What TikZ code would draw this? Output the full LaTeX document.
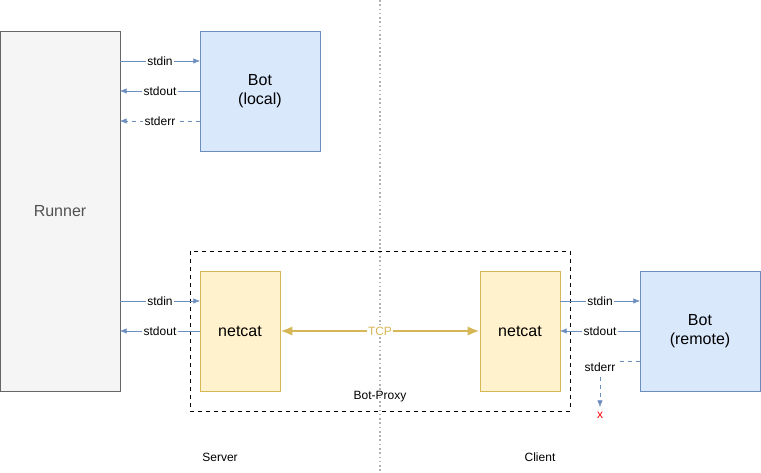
\documentclass[tikz,border=0pt]{standalone}
\usepackage{fontspec}
\setmainfont{Liberation Sans}
\usetikzlibrary{arrows.meta}
\definecolor{runfill}{HTML}{F5F5F5}
\definecolor{runline}{HTML}{666666}
\definecolor{botfill}{HTML}{DAE8FC}
\definecolor{botline}{HTML}{6C8EBF}
\definecolor{ncfill}{HTML}{FFF2CC}
\definecolor{ncline}{HTML}{D6B656}
\tikzset{
  box/.style={draw, minimum width=#1*0.75pt, inner sep=0pt, align=center, font=\large},
  pipe/.style={draw=botline, -{Latex[length=5pt,width=4pt]}},
  lbl/.style={fill=white, inner sep=1pt, font=\small}
}
\begin{document}
\begin{tikzpicture}[x=0.75pt, y=-0.75pt]
  \useasboundingbox (0,0) rectangle (761,473);
  \draw[gray!60, dotted, line width=1.2pt] (380,0) -- (380,473);
  \draw[dashed] (190,251) rectangle (570,411);

  \node[box=120, fill=runfill, draw=runline, text=runline!80!black, minimum height=270pt] at (60,211) (runner) {Runner};
  \node[box=120, fill=botfill, draw=botline, minimum height=90pt] at (260,91) (botl) {Bot\\(local)};
  \node[box=80, fill=ncfill, draw=ncline, minimum height=90pt] at (240,331) (ncl) {netcat};
  \node[box=80, fill=ncfill, draw=ncline, minimum height=90pt] at (520,331) (ncr) {netcat};
  \node[box=120, fill=botfill, draw=botline, minimum height=90pt] at (700,331) (botr) {Bot\\(remote)};

  \node[font=\small] at (380,397) (proxy) {Bot-Proxy};
  \node[font=\small] at (220,457) (server) {Server};
  \node[font=\small] at (540,457) (client) {Client};

  \draw[pipe] (120,61) -- node[lbl] {stdin} (200,61);
  \draw[pipe] (200,91) -- node[lbl] {stdout} (120,91);
  \draw[pipe, dashed] (200,121) -- node[lbl] {stderr} (120,121);
  \draw[pipe] (120,301) -- node[lbl] {stdin} (200,301);
  \draw[pipe] (200,331) -- node[lbl] {stdout} (120,331);

  \draw[ncline, line width=2pt, {Latex[length=9pt,width=7pt]}-{Latex[length=9pt,width=7pt]}]
    (ncl) -- node[lbl] {TCP} (ncr);

  \draw[pipe] (560,301) -- node[lbl] {stdin} (640,301);
  \draw[pipe] (640,331) -- node[lbl] {stdout} (560,331);
  \node[red, font=\small] at (600,415) (drop) {x};
  \draw[pipe, dashed] (640,361) -- (600,361) -- (drop.north);
  \node[lbl] at (600,367) (errr) {stderr};
\end{tikzpicture}
\end{document}
